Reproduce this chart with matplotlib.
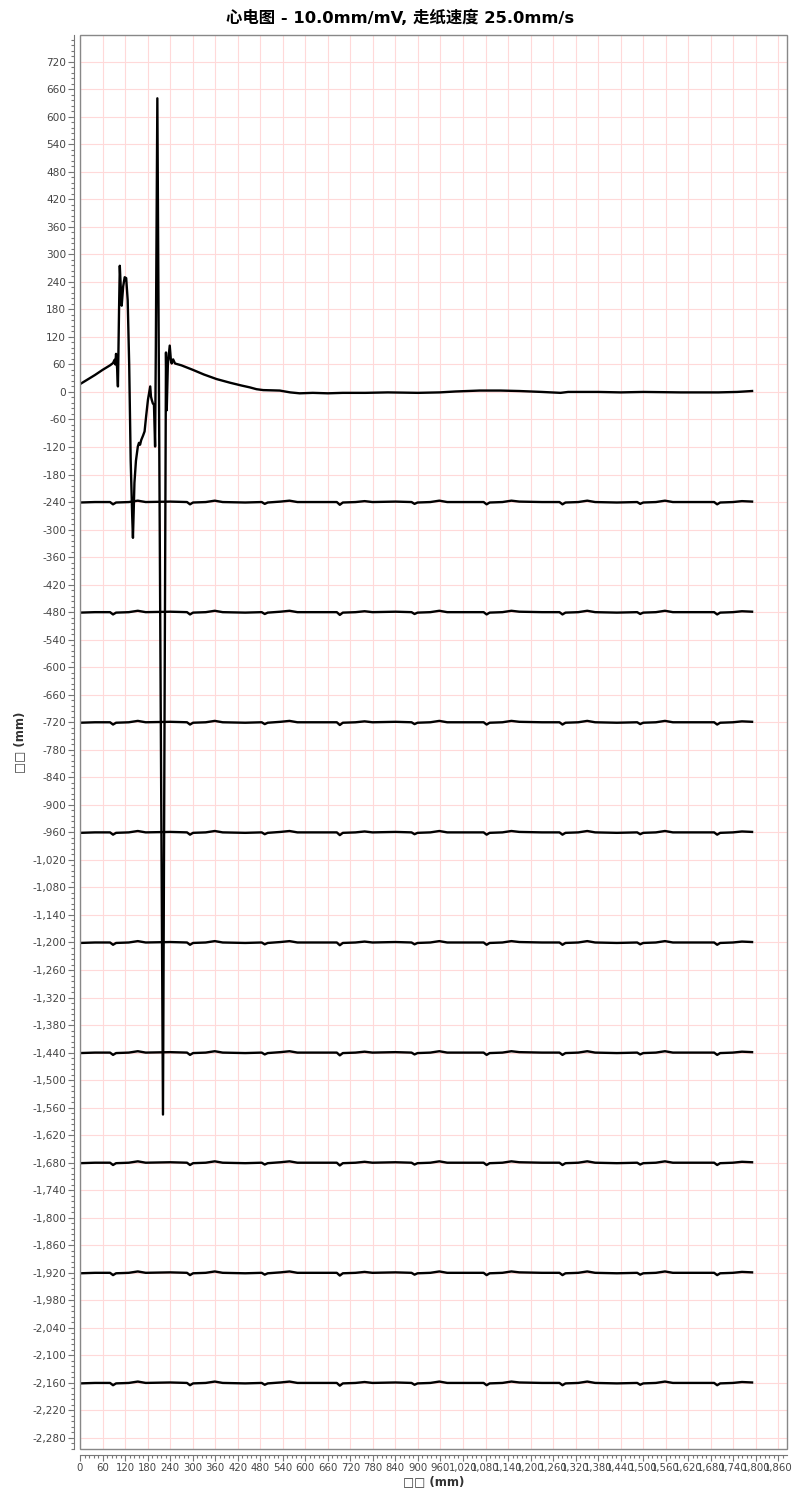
import matplotlib
matplotlib.use("Agg")
import matplotlib.pyplot as plt
from matplotlib.ticker import MultipleLocator, FuncFormatter
from matplotlib.patches import Rectangle

plt.rcParams['font.family'] = ['DejaVu Sans', 'Noto Sans CJK SC']

# lead baselines (mm)
baselines = [0, -240, -480, -720, -960, -1200, -1440, -1680, -1920, -2160]

# first lead: full waveform (x in mm, y in mm)
lead1_x = [0, 20, 40, 60, 80, 88, 92, 94, 96, 99, 101, 104, 106, 109, 111, 115, 119, 123, 127,
           131, 135, 139, 141, 143, 145, 149, 154, 157, 160, 163, 168, 172, 176, 181, 187, 189,
           191, 194, 197, 200, 202, 206, 221, 229, 231, 234, 239, 242, 244, 248, 253, 270, 301,
           330, 364, 400, 430, 452, 470, 488, 532, 560, 585, 620, 660, 700, 760, 820, 900, 958,
           1000, 1064, 1120, 1170, 1230, 1280, 1300, 1380, 1440, 1500, 1600, 1700, 1750, 1790]
lead1_y = [17, 27, 37, 48, 58, 63, 70, 60, 83, 50, 12, 180, 275, 220, 188, 230, 250, 248, 200,
           60, -150, -270, -318, -260, -198, -150, -119, -111, -115, -105, -95, -86, -54, -17, 12, -10,
           -17, -25, -28, -119, 100, 640, -1575, 86, -40, 60, 101, 70, 62, 71, 62, 58, 48,
           38, 28, 20, 14, 10, 6, 4, 3, -1, -3, -2, -3, -2, -2, -1, -2, -1,
           1, 3, 3, 2, 0, -2, 0, 0, -1, 0, -1, -1, 0, 2]

# other leads: small wiggles around their baseline
flat_x = [0, 40, 80, 88, 96, 130, 154, 175, 240, 285, 293, 301, 335, 359, 380, 440, 484, 492, 500,
          534, 558, 579, 640, 684, 692, 700, 734, 758, 779, 840, 883, 891, 899, 933, 957, 978, 1030,
          1075, 1083, 1091, 1125, 1149, 1170, 1230, 1277, 1285, 1293, 1327, 1351, 1372, 1430, 1484,
          1492, 1500, 1534, 1558, 1579, 1640, 1689, 1697, 1705, 1739, 1763, 1790]
flat_y = [-1, 0, 0, -5, -1, 0, 3, 0, 1, 0, -5, -1, 0, 3, 0, -1, 0, -4, -1,
          1, 3, 0, 0, 0, -6, -1, 0, 2, 0, 1, 0, -4, -1, 0, 3, 0, 0,
          0, -5, -1, 0, 3, 1, 0, 0, -5, -1, 0, 3, 0, -1, 0,
          -4, -1, 0, 3, 0, 0, 0, -5, -1, 0, 2, 1]

fig = plt.figure(figsize=(8, 15), dpi=100)
ax = fig.add_axes([0.1, 0.034, 0.88375, 0.94267])

ax.plot(lead1_x, lead1_y, color="black", lw=1.7, zorder=3)
for b in baselines[1:]:
    ax.plot(flat_x, [b + v for v in flat_y], color="black", lw=1.7, zorder=3)

ax.set_xlim(0, 1883)
ax.set_ylim(-2304, 778)

ax.xaxis.set_major_locator(MultipleLocator(60))
ax.xaxis.set_minor_locator(MultipleLocator(12))
ax.yaxis.set_major_locator(MultipleLocator(60))
ax.yaxis.set_minor_locator(MultipleLocator(12))
fmt = FuncFormatter(lambda v, p: f"{v:,.0f}")
ax.xaxis.set_major_formatter(fmt)
ax.yaxis.set_major_formatter(fmt)

ax.grid(True, which="major", color="#ffd9d9", lw=0.8, zorder=0)
ax.tick_params(which="major", length=4, width=0.8, color="#777777",
               labelsize=7.6, labelcolor="#444444", pad=2)
ax.tick_params(axis="x", labelsize=7.3)
ax.tick_params(which="minor", length=2, width=0.8, color="#777777")

# axis lines offset from the plot box
for s in ["top", "right"]:
    ax.spines[s].set_visible(False)
for s in ["left", "bottom"]:
    ax.spines[s].set_position(("outward", 4))
    ax.spines[s].set_color("#777777")
ax.add_patch(Rectangle((0, 0), 1, 1, transform=ax.transAxes, fill=False,
                       edgecolor="#888888", lw=1, zorder=4, clip_on=False))

fig.suptitle("心电图 - 10.0mm/mV, 走纸速度 25.0mm/s", x=0.5, y=0.9935,
             fontsize=11.8, fontweight="bold")
ax.set_xlabel("□□ (mm)", fontsize=8.5, fontweight="bold", color="#333333", labelpad=2)
ax.set_ylabel("□□ (mm)", fontsize=8.5, fontweight="bold", color="#333333", labelpad=4)

fig.savefig("out.png", dpi=100)
